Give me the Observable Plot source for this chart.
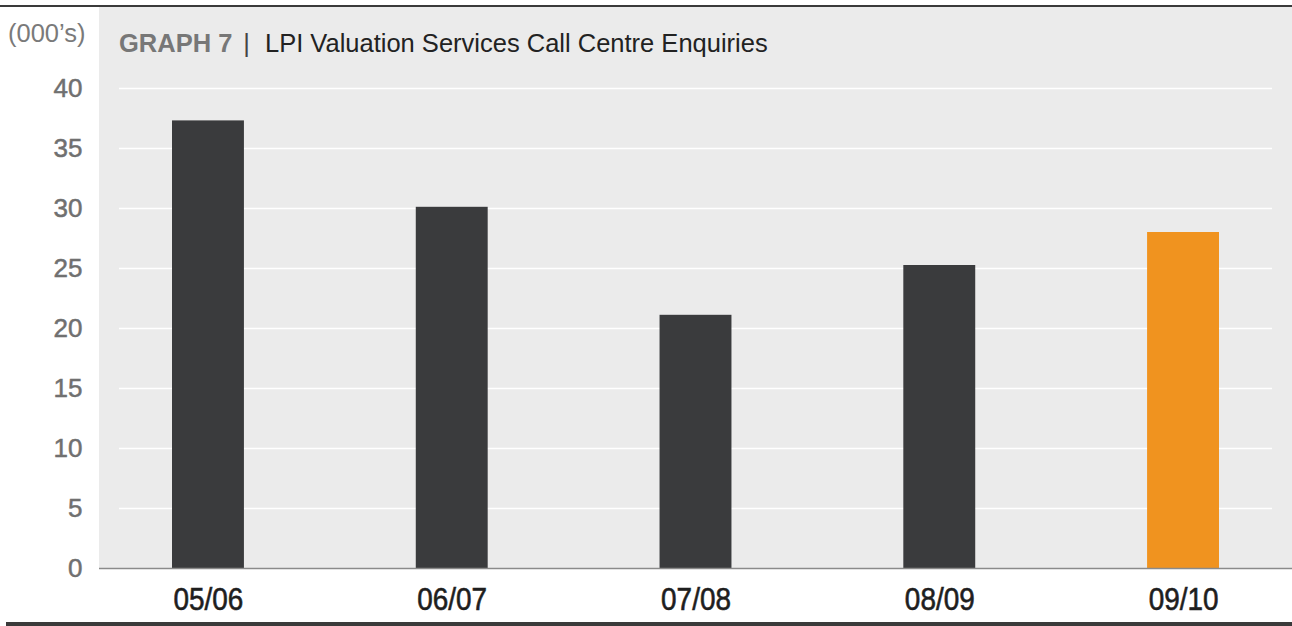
<!DOCTYPE html>
<html>
<head>
<meta charset="utf-8">
<script src="https://cdn.jsdelivr.net/npm/d3@7"></script>
<script src="https://cdn.jsdelivr.net/npm/@observablehq/plot@0.6"></script>
<style>
  html, body { margin: 0; padding: 0; background: #fff; }
  #wrap { position: relative; width: 1292px; height: 626px; overflow: hidden; font-family: "Liberation Sans", Arial, sans-serif; }
  #topline { position: absolute; left: 0; top: 5px; width: 1292px; height: 1.5px; background: #3a3a3a; }
  #panel { position: absolute; left: 99px; top: 6.5px; width: 1193px; height: 561.5px; background: #ebebeb; }
  #chart { position: absolute; left: 0; top: 0; }
  #bottomline { position: absolute; left: 6px; top: 621.5px; width: 1286px; height: 4.5px; background: #3a3a3a; }
  #unit { position: absolute; left: 8px; top: 21px; font-size: 25.5px; line-height: 25px; color: #7a7a7a; white-space: nowrap; }
  #title { position: absolute; left: 119px; top: 31px; font-size: 25.5px; line-height: 25px; white-space: nowrap; color: #222; }
  #title b { color: #777; font-weight: bold; }
  #title .bar { color: #444; margin: 0 15px 0 11px; }
</style>
</head>
<body>
<div id="wrap">
  <div id="topline"></div>
  <div id="panel"></div>
  <div id="chart"></div>
  <div id="bottomline"></div>
  <div id="unit">(000’s)</div>
  <div id="title"><b>GRAPH 7</b><span class="bar">|</span>LPI Valuation Services Call Centre Enquiries</div>
</div>
<script>
const years = ["05/06", "06/07", "07/08", "08/09", "09/10"];
const enquiries = [37.3, 30.1, 21.1, 25.25, 28.0];
const barColors = ["#3a3b3d", "#3a3b3d", "#3a3b3d", "#3a3b3d", "#f0931f"];
const yTicks = [0, 5, 10, 15, 20, 25, 30, 35, 40];
const gridTicks = [5, 10, 15, 20, 25, 30, 35, 40];

const data = years.map((y, i) => ({year: y, value: enquiries[i], color: barColors[i]}));

const chart = Plot.plot({
  width: 1292,
  height: 626,
  marginLeft: 99,
  marginRight: 0,
  marginTop: 88,
  marginBottom: 58,
  style: {background: "transparent", overflow: "visible"},
  x: {domain: years, paddingInner: 0.705, paddingOuter: 0.2995, round: false, label: null},
  y: {domain: [0, 40], label: null},
  marks: [
    Plot.ruleY(gridTicks, {stroke: "#ffffff", strokeWidth: 1.5, insetLeft: 20, insetRight: 20}),
    Plot.barY(data, {x: "year", y: "value", fill: "color"}),
    Plot.ruleY([0], {stroke: "#8a8a8a", strokeWidth: 1.5}),
    Plot.axisY({ticks: yTicks, tickSize: 0, tickPadding: 17, fontSize: 26, fill: "#707070", label: null,
      fontFamily: "Liberation Sans, Arial, sans-serif"}),
    Plot.axisX({tickSize: 0, tickPadding: 19, fontSize: 31, fill: "#1e1e1e", label: null,
      fontFamily: "Liberation Sans, Arial, sans-serif"})
  ]
});
// condense the x tick labels horizontally and give them a medium weight, as in the reference typeface
chart.querySelectorAll('g[aria-label="x-axis tick label"] text').forEach(t => {
  const tr = t.getAttribute("transform") || "";
  t.setAttribute("transform", tr + " scale(0.9,1)");
  t.setAttribute("stroke", "#1e1e1e");
  t.setAttribute("stroke-width", "0.6");
});
chart.querySelectorAll('g[aria-label="y-axis tick label"] text').forEach(t => {
  t.setAttribute("stroke", "#707070");
  t.setAttribute("stroke-width", "0.5");
});
document.getElementById("chart").appendChild(chart);
</script>
</body>
</html>
